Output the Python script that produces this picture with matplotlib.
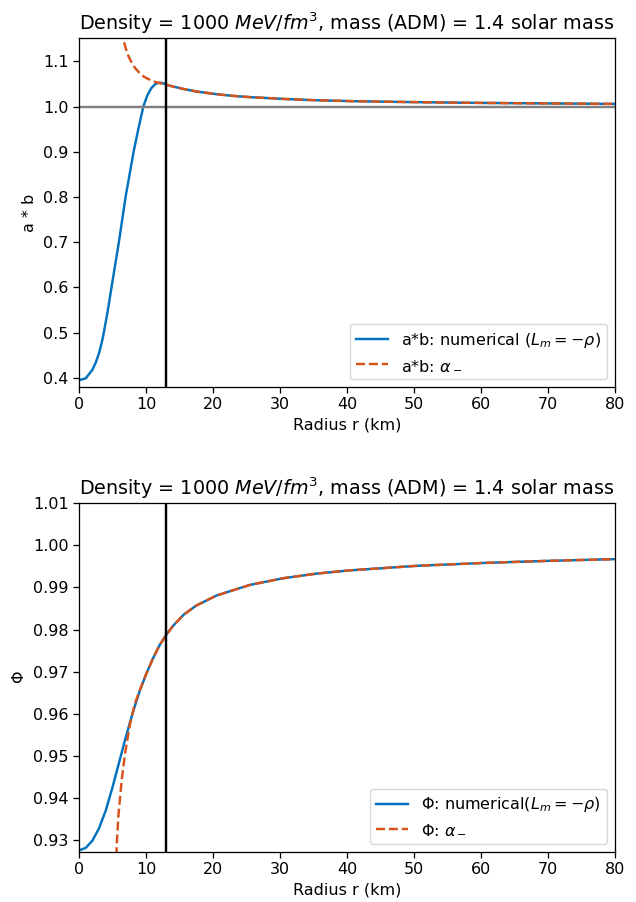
#!/usr/bin/env python3
"""a*b and Phi profiles vs radius, numerical vs alpha_- solution"""

import numpy as np
import matplotlib.pyplot as plt

BLUE = '#0072BD'
ORANGE = '#D95319'
TITLE = 'Density = 1000 $MeV/fm^3$, mass (ADM) = 1.4 solar mass'
R_STAR = 13.0  # stellar surface (km)

# shared exterior part (both solutions coincide outside the star)
ab_tail_r = [13.1, 14.0, 15.6, 17.5, 20.5, 23.0, 25.5, 30.5, 35.5, 40.4, 47.6,
             55.0, 60.0, 70.0, 80.0]
ab_tail_v = [1.048, 1.0445, 1.039, 1.0335, 1.0275, 1.0237, 1.021, 1.017, 1.014,
             1.0122, 1.0104, 1.009, 1.0082, 1.007, 1.006]

# a*b, numerical (L_m = -rho), interior
ab_num_r = [0.0, 1.0, 2.0, 2.5, 3.0, 3.5, 3.7, 4.3, 4.85, 5.4, 5.95, 6.45, 6.95,
            7.55, 8.15, 8.85, 9.6, 10.2, 10.8, 11.4, 12.0, 12.5, 13.0] + ab_tail_r
ab_num_v = [0.395, 0.399, 0.418, 0.434, 0.455, 0.485, 0.500, 0.549, 0.600, 0.650,
            0.700, 0.750, 0.800, 0.850, 0.900, 0.950, 1.000, 1.025, 1.041, 1.050,
            1.053, 1.052, 1.049] + ab_tail_v

# a*b, alpha_-
ab_alpha_r = [6.3, 6.6, 7.0, 7.4, 7.9, 8.4, 9.0, 9.6, 10.2, 10.8, 11.5, 12.3] + ab_tail_r
ab_alpha_v = [1.170, 1.149, 1.128, 1.111, 1.096, 1.085, 1.075, 1.067, 1.062, 1.058,
              1.054, 1.051] + ab_tail_v

# Phi exterior part
phi_tail_r = [13.0, 14.0, 15.6, 17.5, 20.55, 25.5, 30.5, 35.5, 40.4, 50.4, 60.3,
              70.3, 80.0]
phi_tail_v = [0.9787, 0.9808, 0.9835, 0.9857, 0.9881, 0.9906, 0.9922, 0.9933,
              0.99406, 0.99514, 0.99582, 0.99634, 0.99673]

# Phi, numerical (L_m = -rho)
phi_num_r = [0.0, 1.0, 2.0, 3.0, 4.0, 5.0, 6.0, 7.0, 8.0, 9.0, 10.0, 11.0, 12.0] + phi_tail_r
phi_num_v = [0.9275, 0.9281, 0.9298, 0.9328, 0.9370, 0.9425, 0.9485, 0.9545,
             0.9601, 0.9651, 0.9693, 0.9730, 0.9762] + phi_tail_v

# Phi, alpha_-
phi_alpha_r = [5.45, 5.62, 5.87, 6.37, 6.87, 7.61, 8.36, 9.0, 10.0, 11.0, 12.0] + phi_tail_r
phi_alpha_v = [0.9200, 0.9284, 0.9355, 0.9442, 0.9505, 0.9575, 0.9625, 0.9653,
               0.9693, 0.9730, 0.9762] + phi_tail_v

plt.rcParams.update({
    'font.size': 11.5,
    'axes.linewidth': 0.92,
    'xtick.major.size': 4.0,
    'ytick.major.size': 4.0,
    'xtick.major.width': 0.92,
    'ytick.major.width': 0.92,
})

fig = plt.figure(figsize=(6.36, 9.02), dpi=100)
ax1 = fig.add_axes([0.1242, 0.571, 0.8428, 0.387])
ax2 = fig.add_axes([0.1242, 0.0558, 0.8428, 0.3862])

# top panel: a*b
ax1.plot(ab_num_r, ab_num_v, color=BLUE, lw=1.75, label=r'a*b: numerical ($L_m = -\rho$)')
ax1.plot(ab_alpha_r, ab_alpha_v, '--', color=ORANGE, lw=1.75, label=r'a*b: $\alpha_-$')
ax1.axhline(1.0, color='gray', lw=1.75)
ax1.axvline(R_STAR, color='black', lw=1.75)
ax1.set_xlim(0, 80)
ax1.set_ylim(0.380, 1.152)
ax1.set_xlabel('Radius r (km)', fontsize=11.5)
ax1.set_ylabel('a * b', fontsize=11.5)
ax1.set_title(TITLE, fontsize=13.8)
ax1.legend(loc='lower right', fontsize=11.5)

# bottom panel: Phi
ax2.plot(phi_num_r, phi_num_v, color=BLUE, lw=1.75, label=r'$\Phi$: numerical($L_m = -\rho$)')
ax2.plot(phi_alpha_r, phi_alpha_v, '--', color=ORANGE, lw=1.75, label=r'$\Phi$: $\alpha_-$')
ax2.axvline(R_STAR, color='black', lw=1.75)
ax2.set_xlim(0, 80)
ax2.set_ylim(0.9272, 1.01)
ax2.set_yticks(np.arange(0.93, 1.0101, 0.01))
ax2.set_xlabel('Radius r (km)', fontsize=11.5)
ax2.set_ylabel(r'$\Phi$', fontsize=11.5)
ax2.set_title(TITLE, fontsize=13.8)
ax2.legend(loc='lower right', fontsize=11.5)

for ax in (ax1, ax2):
    ax.tick_params(labelsize=11.5)

plt.savefig('out.png', dpi=100)
plt.close()
